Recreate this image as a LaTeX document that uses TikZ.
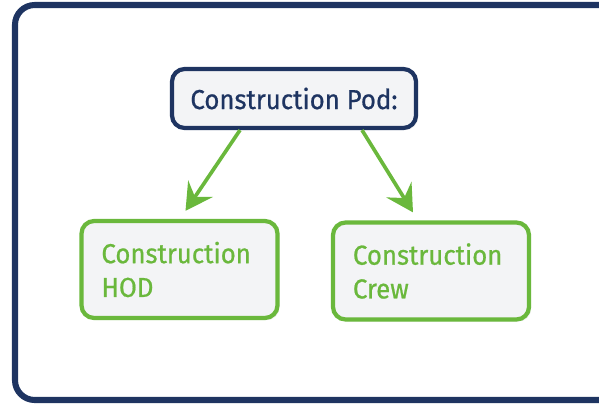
\documentclass[tikz,border=0pt]{standalone}
\usepackage{fontspec}
\setmainfont{Fira Sans}[FakeStretch=0.94, FakeBold=0.7]
\usetikzlibrary{arrows.meta,shadows}
\definecolor{navy}{HTML}{1E3461}
\definecolor{leaf}{HTML}{6AB83C}
\definecolor{boxfill}{HTML}{F3F4F6}
\tikzstyle{pod} = [draw=navy, text=navy, line width=3pt, fill=boxfill, rounded corners=9pt,
  minimum width=6.1cm, minimum height=1.475cm, font=\fontsize{19.5}{22}\selectfont,
  drop shadow={opacity=0.12, shadow xshift=1.5pt, shadow yshift=-1.5pt}]
\tikzstyle{team} = [draw=leaf, text=leaf, line width=3pt, fill=boxfill, rounded corners=9pt,
  minimum width=4.875cm, minimum height=2.425cm, text width=3.9cm, inner xsep=0.5cm,
  align=left, font=\fontsize{19.5}{24}\selectfont,
  drop shadow={opacity=0.12, shadow xshift=1.5pt, shadow yshift=-1.5pt}]
\tikzstyle{flow} = [draw=leaf, line width=2.6pt, -{Stealth[length=19pt, width=21pt, inset=7pt]}]

\begin{document}
\begin{tikzpicture}[x=0.025cm, y=-0.025cm]
	\useasboundingbox (0,0) rectangle (599,403);
	% outer frame, its right side runs off the page
	\draw[navy, line width=4.3pt, rounded corners=14pt] (640,5) -- (15,5) -- (15,400) -- (640,400);

	\node[pod] (pod) at (294,98.5) {Construction Pod:};
	\node[team] (hod) at (179.5,269.5) {Construction\\HOD};
	\node[team] (crew) at (431,271) {Construction\\Crew};

	\draw[flow] ([xshift=-1.35cm]pod.south) -- ([xshift=0.15cm,yshift=0.2cm]hod.north);
	\draw[flow] ([xshift=1.7cm]pod.south) -- ([xshift=-0.45cm,yshift=0.2cm]crew.north);
\end{tikzpicture}
\end{document}
